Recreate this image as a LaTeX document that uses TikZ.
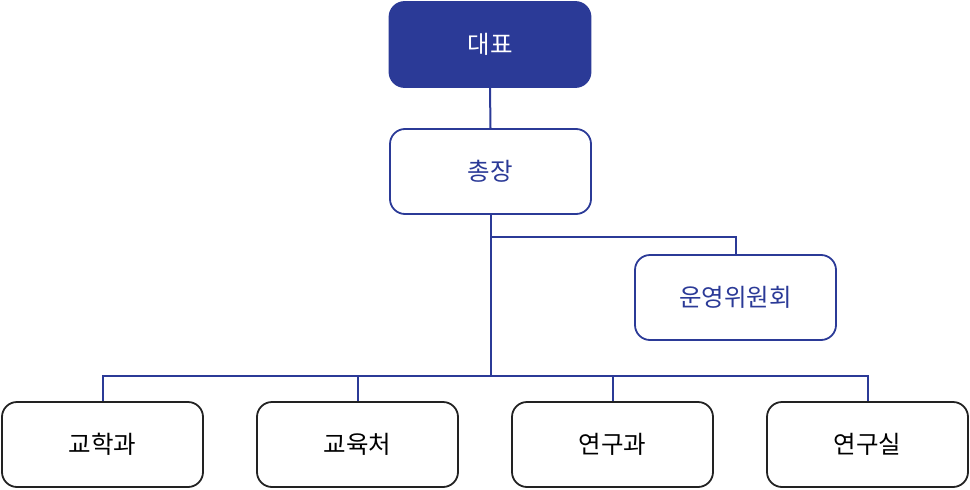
\documentclass[tikz,border=0pt]{standalone}
\usepackage{fontspec}
\newfontfamily\cjk{Noto Sans CJK KR}
\definecolor{navy}{HTML}{2B3A97}
\definecolor{dk}{HTML}{222222}
\begin{document}
\begin{tikzpicture}[x=1pt,y=-1pt,
  box/.style={rounded corners=15pt,line width=1.8pt,minimum width=201pt,minimum height=85pt,inner sep=0pt,font=\cjk\fontsize{24.5}{28}\selectfont},
  topbox/.style={box,fill=navy,draw=navy,text=white},
  bluebox/.style={box,draw=navy,text=navy},
  blackbox/.style={box,draw=dk,text=black},
  link/.style={draw=navy,line width=2pt}]
\useasboundingbox (0,0) rectangle (970,490);
\node[topbox] (ceo) at (490,44.5) {대표};
\node[bluebox] (pres) at (490.5,171.5) {총장};
\node[bluebox] (comm) at (735.5,297.5) {운영위원회};
\node[blackbox] (a) at (102.5,444.5) {교학과};
\node[blackbox] (b) at (357.5,444.5) {교육처};
\node[blackbox] (c) at (612.5,444.5) {연구과};
\node[blackbox] (d) at (867.5,444.5) {연구실};
\coordinate (hub) at (490.5,376);
\draw[link] (ceo.south) -- (pres.north);
\draw[link] (pres.south) -- (hub);
\draw[link] (pres.south) ++(0,22) -| (comm.north);
\draw[link] (a.north) |- (hub);
\draw[link] (b.north) |- (hub);
\draw[link] (c.north) |- (hub);
\draw[link] (d.north) |- (hub);
\end{tikzpicture}
\end{document}
